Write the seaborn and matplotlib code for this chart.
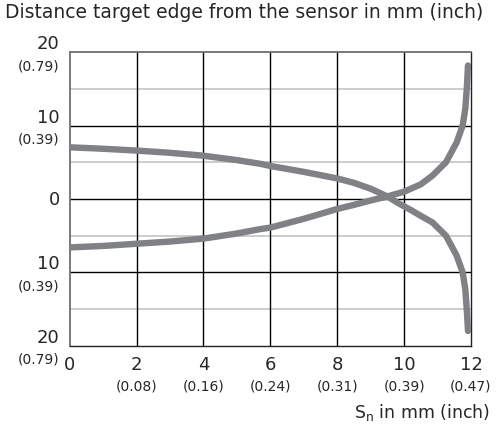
import numpy as np
import pandas as pd
import matplotlib
matplotlib.use("Agg")
import matplotlib.pyplot as plt
import matplotlib.transforms as mtransforms
import seaborn as sns

# curves: distance of the target edge vs Sn
x_upper = [0, 1, 2, 3, 4, 5, 5.7, 6, 7, 8, 8.5, 9, 9.5, 9.84, 10.2, 10.5, 10.85,
           11.25, 11.57, 11.75, 11.83, 11.88, 11.91]
y_upper = [7.05, 6.85, 6.6, 6.3, 5.9, 5.3, 4.8, 4.5, 3.7, 2.8, 2.2, 1.4, 0.35, -0.6, -1.5,
           -2.3, -3.2, -5.0, -7.7, -10.0, -12.3, -15.5, -18.0]

x_lower = [0, 1, 2, 3, 4, 5, 5.7, 6, 7, 8, 8.5, 9, 9.5, 10, 10.5, 10.85,
           11.25, 11.57, 11.75, 11.83, 11.88, 11.91]
y_lower = [-6.6, -6.4, -6.1, -5.8, -5.4, -4.7, -4.1, -3.9, -2.7, -1.36, -0.8, -0.2, 0.35,
           1.0, 2.0, 3.2, 5.0, 7.7, 10.0, 12.3, 15.5, 18.2]

x_ticks = [0, 2, 4, 6, 8, 10, 12]
x_inch = ["", "(0.08)", "(0.16)", "(0.24)", "(0.31)", "(0.39)", "(0.47)"]
y_ticks = [20, 10, 0, -10, -20]
y_text = ["20", "10", "0", "10", "20"]
y_inch = ["(0.79)", "(0.39)", "", "(0.39)", "(0.79)"]

LINE = "#808184"
FONT = "DejaVu Sans"

df = pd.concat([
    pd.DataFrame({"x": x_upper, "y": y_upper, "curve": "upper"}),
    pd.DataFrame({"x": x_lower, "y": y_lower, "curve": "lower"}),
])

sns.set_style("white")
plt.rcParams["font.family"] = [FONT]

W, H = 496, 431
fig = plt.figure(figsize=(W / 100, H / 100), dpi=100)
ax = fig.add_axes([69.7 / W, 1 - 346.7 / H, (471 - 69.7) / W, (346.7 - 53.3) / H])

# light grid at the half steps
for v in [15, 5, -5, -15]:
    ax.axhline(v, color="#c8c8c8", lw=1.3, zorder=1)
for v in [10, 0, -10]:
    ax.axhline(v, color="black", lw=1.0, zorder=1)
for v in x_ticks[1:-1]:
    ax.axvline(v, color="black", lw=1.0, zorder=1)

sns.lineplot(data=df, x="x", y="y", units="curve", estimator=None, sort=False,
             color=LINE, lw=4.6, ax=ax, legend=False, zorder=3,
             solid_capstyle="round", solid_joinstyle="round")

ax.set_xlim(0, 12)
ax.set_ylim(-20, 20)
ax.set_xticks([])
ax.set_yticks([])
ax.set_xlabel("")
ax.set_ylabel("")
for side in ["left", "top"]:
    ax.spines[side].set_color("#6e6e6e")
    ax.spines[side].set_linewidth(1.3)
for side in ["right", "bottom"]:
    ax.spines[side].set_color("#222222")
    ax.spines[side].set_linewidth(1.0)

# two-line tick labels: mm value large, inch value small
ytr = mtransforms.blended_transform_factory(ax.transAxes, ax.transData)
off = lambda dx, dy: mtransforms.ScaledTranslation(dx / 100, dy / 100, fig.dpi_scale_trans)
for v, t, inch in zip(y_ticks, y_text, y_inch):
    if inch:
        ax.text(0, v, t, transform=ytr + off(-10, 9), ha="right", va="center", fontsize=13)
        ax.text(0, v, inch, transform=ytr + off(-10, -13), ha="right", va="center", fontsize=10)
    else:
        ax.text(0, v, t, transform=ytr + off(-10, 0), ha="right", va="center", fontsize=13)

xtr = mtransforms.blended_transform_factory(ax.transData, ax.transAxes)
for v, inch in zip(x_ticks, x_inch):
    ax.text(v, 0, str(v), transform=xtr + off(0, -18), ha="center", va="center", fontsize=13)
    if inch:
        ax.text(v, 0, inch, transform=xtr + off(0, -40), ha="center", va="center", fontsize=10)

fig.text(5 / W, 1 - 13 / H, "Distance target edge from the sensor in mm (inch)",
         ha="left", va="center", fontsize=13.5)
fig.text(490 / W, 1 - 413 / H, r"S$_\mathregular{n}$ in mm (inch)",
         ha="right", va="center", fontsize=12.5)

fig.savefig("out.png", dpi=100)
